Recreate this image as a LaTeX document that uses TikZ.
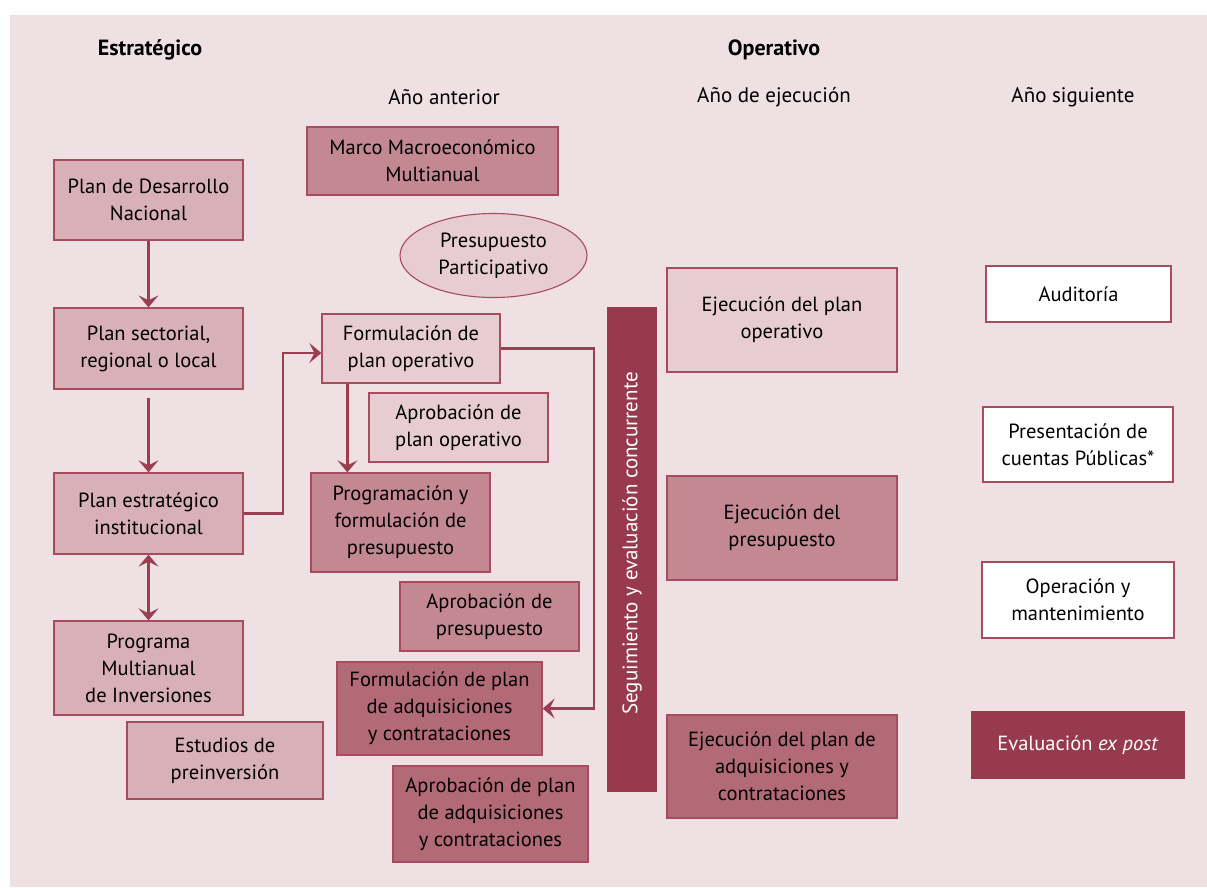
\documentclass[tikz,border=0pt]{standalone}
\usepackage{fontspec}
\setmainfont{PT Sans}
\usetikzlibrary{shapes.geometric,arrows.meta,calc}
\definecolor{bgc}{HTML}{EFE0E4}
\definecolor{lightA}{HTML}{D8B0B8}
\definecolor{lightB}{HTML}{E7CDD2}
\definecolor{midc}{HTML}{C48892}
\definecolor{darkc}{HTML}{B36A77}
\definecolor{deepc}{HTML}{983A4D}
\definecolor{bordc}{HTML}{A64C5E}
\definecolor{arrc}{HTML}{9C3E52}
\tikzset{
  bx/.style={draw=bordc,line width=1.3pt,inner sep=0pt,align=center,
    font=\fontsize{20.5}{27}\selectfont,text=black},
  arr/.style={draw=arrc,line width=2.4pt,-{Stealth[length=12pt,width=20pt,inset=5pt]}},
  darr/.style={draw=arrc,line width=2.4pt,{Stealth[length=12pt,width=20pt,inset=5pt]}-{Stealth[length=12pt,width=20pt,inset=5pt]}},
  hdr/.style={font=\fontsize{22}{26}\selectfont\bfseries},
  sub/.style={font=\fontsize{21}{25}\selectfont},
}
\begin{document}
\begin{tikzpicture}[x=1pt,y=-1pt]
\useasboundingbox (0,0) rectangle (1207,887);
\fill[bgc] (10,15) rectangle (1207,887);
% headers
\node[hdr] (h1) at (150,50) {Estratégico};
\node[hdr] (h2) at (774,50) {Operativo};
\node[sub] (h3) at (444,97) {Año anterior};
\node[sub] (h4) at (774,97) {Año de ejecución};
\node[sub] (h5) at (1073,97) {Año siguiente};
% left column
\node[bx,fill=lightA,minimum width=189,minimum height=80] (pdn) at (148.5,200) {Plan de Desarrollo\\Nacional};
\node[bx,fill=lightA,minimum width=189,minimum height=81] (psr) at (148.5,348.5) {Plan sectorial,\\regional o local};
\node[bx,fill=lightA,minimum width=189,minimum height=81] (pei) at (148.5,513.5) {Plan estratégico\\institucional};
\node[bx,fill=lightA,minimum width=189,minimum height=94] (pmi) at (148.5,668) {Programa\\Multianual\\de Inversiones};
\node[bx,fill=lightA,minimum width=196,minimum height=77] (epi) at (225,760.5) {Estudios de\\preinversión};
% middle column
\node[bx,fill=midc,minimum width=251,minimum height=68] (mmm) at (432.5,161) {Marco Macroeconómico\\Multianual};
\node[bx,ellipse,fill=lightB,line width=1.1pt,minimum width=187,minimum height=84] (ppa) at (493.5,255.5) {Presupuesto\\Participativo};
\node[bx,fill=lightB,minimum width=178,minimum height=69] (fpo) at (411,348.5) {Formulación de\\plan operativo};
\node[bx,fill=lightB,minimum width=179,minimum height=69] (apo) at (458.5,427.5) {Aprobación de\\plan operativo};
\node[bx,fill=midc,minimum width=179,minimum height=99] (pfp) at (400.5,522.5) {Programación y\\formulación de\\presupuesto};
\node[bx,fill=midc,minimum width=179,minimum height=69] (apr) at (489.5,616.5) {Aprobación de\\presupuesto};
\node[bx,fill=darkc,minimum width=205,minimum height=93] (fpa) at (439.5,708.5) {Formulación de plan\\de adquisiciones\\y contrataciones};
\node[bx,fill=darkc,minimum width=195,minimum height=96] (apa) at (490.5,814) {Aprobación de plan\\de adquisiciones\\y contrataciones};
% bar
\node[fill=deepc,minimum width=50,minimum height=485,inner sep=0pt] (bar) at (632,549.5) {};
\node[rotate=90,text=white,font=\fontsize{21}{25}\selectfont] (bart) at ($(bar.center)+(0,-6)$) {Seguimiento y evaluación concurrente};
% execution column
\node[bx,fill=lightB,minimum width=230,minimum height=104] (epo) at (782,320) {Ejecución del plan\\operativo};
\node[bx,fill=midc,minimum width=230,minimum height=104] (epr) at (782,528) {Ejecución del\\presupuesto};
\node[bx,fill=darkc,minimum width=230,minimum height=103] (epa) at (782,766.5) {Ejecución del plan de\\adquisiciones y\\contrataciones};
% next year column
\node[bx,fill=white,minimum width=185,minimum height=56] (aud) at (1078.5,294) {Auditoría};
\node[bx,fill=white,minimum width=190,minimum height=75] (pcp) at (1078,444.5) {Presentación de\\cuentas Públicas*};
\node[bx,fill=white,minimum width=192,minimum height=76] (oym) at (1078,600) {Operación y\\mantenimiento};
\node[bx,fill=deepc,draw=deepc,text=white,minimum width=212,minimum height=66] (eep) at (1078,745) {Evaluación \textit{ex post}};
% connectors
\draw[arr] (pdn) -- (psr);
\draw[arr] ($(psr.south)+(0,8)$) -- (pei.north);
\draw[darr] (pei) -- (pmi);
\draw[arr] (pei.east) -- (283,513.5) |- ($(fpo.west)+(0,4.5)$);
\draw[arr] ($(fpo.south west)+(26,0)$) -- ($(pfp.north west)+(37,0)$);
\draw[arr] (fpo.east) -- (594,348.5) |- (fpa.east);
\end{tikzpicture}
\end{document}
